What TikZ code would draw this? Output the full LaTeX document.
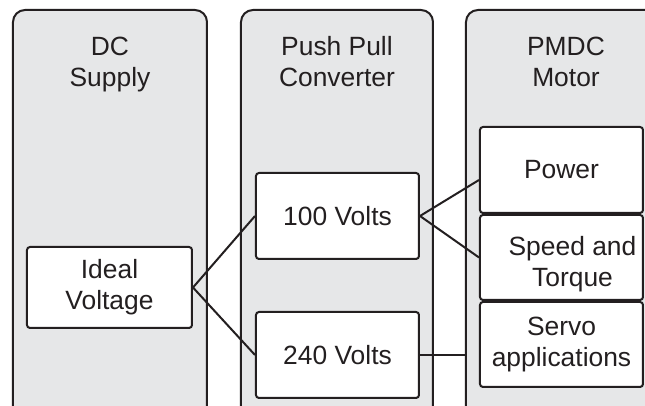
\documentclass[tikz,border=0pt]{standalone}
\usepackage{fontspec}
\setmainfont{Liberation Sans}
\usetikzlibrary{positioning}
\definecolor{panel}{RGB}{230,231,232}
\definecolor{ink}{RGB}{35,31,32}

\begin{document}
\begin{tikzpicture}[x=0.5pt, y=-0.5pt,
    every node/.style={font=\fontsize{13.2}{15.5}\selectfont, text=ink},
    part/.style={draw=ink, fill=white, line width=1pt, rounded corners=1.5pt,
        minimum width=81.5pt, minimum height=42.5pt, inner sep=0pt, align=center},
    title/.style={anchor=base, align=center},
    link/.style={draw=ink, line width=1pt}]
        \clip (0,0) rectangle (645,406);
        % the three columns, open at the bottom
        \foreach \l/\r in {13/207, 241/433, 466/680} {
            \filldraw[fill=panel, draw=ink, line width=1pt, rounded corners=6pt]
                (\l,430) -- (\l,10) -- (\r,10) -- (\r,430);
        }
        \node[title] (dc)   at (110,87) {DC\\Supply};
        \node[title] (ppc)  at (337,87) {Push Pull\\Converter};
        \node[title] (pmdc) at (566,87) {PMDC\\Motor};

        \node[part, minimum width=82.5pt, minimum height=40.5pt] (ideal) at (109.5,287.5) {Ideal\\Voltage};
        \node[part, minimum height=43pt] (v100)  at (337.5,216) {100 Volts};
        \node[part, minimum height=43pt] (v240)  at (337.5,355) {240 Volts};
        \node[part, minimum height=43pt] (power) at (561.5,170) {Power};
        \node[part] (speed) at (561.5,257.5) {};
        \node[align=center, xshift=5.5pt, yshift=-3.5pt] (speedtxt) at (speed) {Speed and\\Torque};
        \node[part] (servo) at (561.5,344.5) {Servo\\applications};

        \coordinate (tap) at (466,355);
        \draw[link] (ideal.east) -- (v100.west);
        \draw[link] (ideal.east) -- (v240.west);
        \draw[link] (v100.east) -- ([yshift=-5pt]power.west);
        \draw[link] (v100.east) -- (speed.west);
        \draw[link] (v240.east) -- (tap);
    \end{tikzpicture}
\end{document}
